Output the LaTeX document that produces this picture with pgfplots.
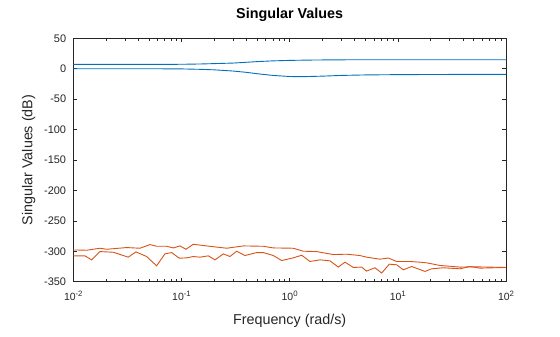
\documentclass[border=0pt]{standalone}
\usepackage{fontspec}
\setmainfont{Liberation Sans}
\usepackage{pgfplots}
\pgfplotsset{compat=1.18}
\definecolor{mblue}{rgb}{0,0.447,0.741}
\definecolor{morange}{rgb}{0.85,0.325,0.098}
\definecolor{axgray}{rgb}{0.15,0.15,0.15}
\begin{document}
\begin{tikzpicture}
\path (-73.3bp,-55.3bp) rectangle (486.7bp,281.7bp);
\begin{semilogxaxis}[
  at={(0,0)}, anchor=south west,
  scale only axis, width=432.7bp, height=243.4bp,
  xmin=0.01, xmax=100, ymin=-350, ymax=50,
  axis line style={axgray, line width=0.6bp},
  tick style={axgray, line width=0.6bp},
  major tick length=4bp, minor tick length=2.5bp,
  tick align=inside,
  xtick={0.01,0.1,1,10,100},
  xticklabels={10\raisebox{0.75ex}{\fontsize{7.8}{8}\selectfont -2},
               10\raisebox{0.75ex}{\fontsize{7.8}{8}\selectfont -1},
               10\raisebox{0.75ex}{\fontsize{7.8}{8}\selectfont 0},
               10\raisebox{0.75ex}{\fontsize{7.8}{8}\selectfont 1},
               10\raisebox{0.75ex}{\fontsize{7.8}{8}\selectfont 2}},
  ytick={-350,-300,-250,-200,-150,-100,-50,0,50},
  yticklabels={-350,-300,-250,-200,-150,-100,-50,0,50},
  xticklabel style={anchor=base, yshift=-19bp, font=\fontsize{10.5}{13}\selectfont, text=axgray},
  yticklabel style={anchor=east, inner sep=0pt, xshift=-7bp, font=\fontsize{11}{13}\selectfont, text=axgray},
  title={\textbf{Singular Values}},
  title style={at={(axis description cs:0.5,1.0588)}, anchor=base, font=\fontsize{14.4}{16}\selectfont, text=black, inner sep=0pt},
  xlabel={Frequency (rad/s)},
  xlabel style={at={(axis description cs:0.5,-0.175)}, anchor=base, font=\fontsize{14.4}{16}\selectfont, text=axgray, inner sep=0pt},
  ylabel={Singular Values (dB)},
  ylabel style={at={(axis description cs:-0.0947,0.5)}, anchor=base, font=\fontsize{14.4}{16}\selectfont, text=axgray, inner sep=0pt},
  every axis plot/.append style={line width=0.9bp, mark=none},
]
% blue singular values
\addplot[mblue] coordinates {
(0.01,7.1)(0.0589,7.1)(0.1,7.3)(0.15,7.8)(0.2,8.4)(0.3,9.3)(0.4,10.6)(0.5,11.7)(0.7,12.9)(1,13.7)(1.5,14.2)(2.2,14.5)(4.5,14.8)(100,14.8)
};
\addplot[mblue] coordinates {
(0.01,0)(0.05,0)(0.1,-0.3)(0.15,-1.0)(0.2,-1.8)(0.3,-3.8)(0.4,-6.0)(0.5,-8.2)(0.7,-11.0)(1.0,-12.8)(1.3,-13.1)(2,-12.2)(3,-11)(5,-10.2)(10,-9.7)(30,-9.4)(100,-9.3)
};
% orange singular values
\addplot[morange] coordinates {
(0.01,-297.8)(0.01328,-298.3)(0.01765,-295.0)(0.02033,-296.7)(0.03112,-293.9)(0.04130,-295.0)
(0.05117,-289.0)(0.05891,-291.8)(0.07290,-291.8)(0.08396,-294.5)(0.09683,-291.2)(0.1101,-296.7)
(0.1285,-288.5)(0.1709,-291.2)(0.2618,-295.0)(0.3733,-291.2)(0.5715,-291.8)(0.7066,-294.5)
(1.081,-295.0)(1.337,-299.9)(1.776,-300.5)(2.535,-305.4)(3.367,-304.8)(4.470,-307.0)(5.148,-309.7)
(6.839,-313.0)(8.166,-311.0)(9.751,-316.8)(12.95,-316.8)(16.02,-317.9)(18.48,-319.0)(24.53,-323.3)
(37.58,-326.0)(50,-325.5)(100,-326.6)
};
\addplot[morange] coordinates {
(0.01,-307.5)(0.01282,-307.5)(0.01477,-314.1)(0.01765,-300.5)(0.02344,-301.6)(0.03223,-309.7)
(0.03795,-301.0)(0.04760,-308.6)(0.05891,-323.9)(0.07031,-304.3)(0.08105,-302.1)(0.09550,-311.4)
(0.1116,-310.8)(0.1285,-308.6)(0.1482,-309.7)(0.1771,-307.5)(0.2041,-314.1)(0.2438,-304.3)
(0.2808,-308.6)(0.3236,-299.9)(0.3864,-307.0)(0.4955,-302.1)(0.5715,-302.1)(0.7066,-307.0)
(0.8432,-315.2)(1.081,-310.8)(1.291,-306.5)(1.542,-316.8)(1.907,-314.1)(2.358,-315.7)
(2.817,-326.0)(3.248,-317.9)(3.879,-326.6)(4.634,-326.0)(5.148,-332.6)(6.149,-327.1)
(7.091,-335.8)(8.345,-321.2)(9.751,-322.2)(11.25,-330.4)(13.43,-325.0)(17.83,-333.1)
(20.54,-328.8)(26.35,-327.1)(37.58,-328.8)(46.45,-325.0)(57.48,-327.7)(100,-326.6)
};
\end{semilogxaxis}
\end{tikzpicture}
\end{document}
